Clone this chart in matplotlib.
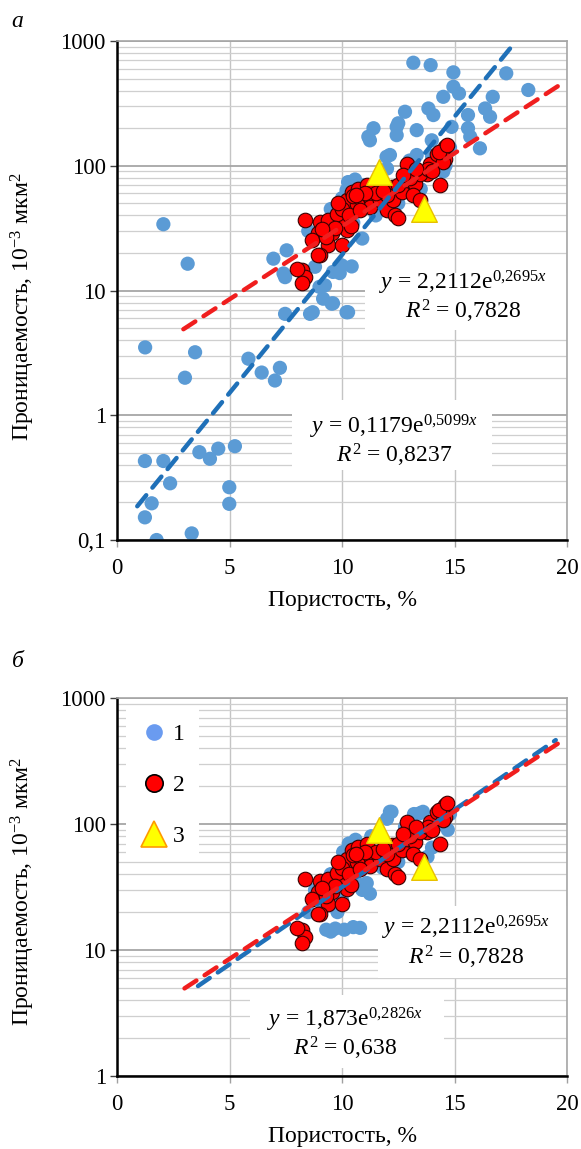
import numpy as np
import matplotlib
matplotlib.use("Agg")
import matplotlib.pyplot as plt
from matplotlib.lines import Line2D
from matplotlib.patches import Rectangle

plt.rcParams['font.family'] = 'serif'
plt.rcParams['font.serif'] = ['Liberation Serif', 'DejaVu Serif']
plt.rcParams['mathtext.fontset'] = 'custom'
plt.rcParams['mathtext.rm'] = 'Liberation Serif'
plt.rcParams['mathtext.it'] = 'Liberation Serif:italic'

# sample 1, panel a (porosity %, permeability 10^-3 um^2)
por1_a = [1.25, 3.47, 3.02, 5.84, 6.43, 7.02, 7.24, 7.47, 1.24, 2.06, 2.36, 1.54,
          1.24, 1.76, 3.32, 3.66, 4.13, 4.50, 5.24, 4.99, 4.99, 2.06, 3.14,
          6.95, 7.54, 7.47, 7.40, 8.80, 9.60, 10.43, 10.20, 10.90, 9.00, 9.54,
          8.58, 10.20, 8.70, 9.60, 10.27, 9.16, 9.99, 9.90, 9.24, 10.27,
          13.17, 13.94, 14.95, 17.30, 18.28, 14.95, 14.50, 15.20, 16.70, 16.36,
          16.58, 15.60, 15.60, 16.13, 13.84, 14.06, 12.80, 12.50, 11.40, 11.17,
          12.43, 13.32, 13.99, 14.87, 15.70, 12.13, 13.32, 10.58, 12.43, 11.98,
          11.24, 8.50, 9.50, 10.50, 11.50, 12.50, 13.50, 14.50, 14.60, 11.00,
          12.00, 13.00, 10.00, 14.00, 14.80]
perm1_a = [3.5, 3.2, 2.0, 2.84, 2.2, 1.9, 2.4, 6.5, 0.43, 0.43, 0.285, 0.197,
           0.152, 0.10, 0.113, 0.506, 0.448, 0.54, 0.565, 0.265, 0.195, 34, 16.4,
           18, 21, 12.8, 13.7, 15.5, 14.1, 15.6, 63.7, 26.1, 10.7, 7.85,
           6.5, 6.7, 6.7, 7.9, 6.7, 8.6, 15.9, 13.8, 11.0, 74,
           670, 641, 561, 551, 405, 430, 357, 380, 357, 288,
           247, 255, 200, 138, 288, 255, 271, 219, 200, 171,
           176, 193, 160, 205, 171, 122, 122, 77.6, 205, 118,
           160, 30, 45, 35, 40, 50, 65, 90, 100, 70,
           95, 110, 55, 120, 140]

# sample 1, panel b (selected part)
por1_b = [9.3, 9.7, 10.1, 10.5, 10.8, 9.5, 8.8, 9.5, 10.3, 10.6, 11.3, 12.0,
          12.2, 13.2, 13.6, 14.3, 14.7, 14.8, 13.0, 11.8, 10.9, 11.24, 11.1,
          9.8, 10.6, 12.5, 13.8, 14.0, 8.5, 10.0, 11.0, 12.13, 13.47, 10.43,
          10.05, 14.5, 12.8, 9.2]
perm1_b = [14.5, 14.8, 14.5, 15.2, 15.0, 14.0, 30, 40, 70, 75, 80, 110,
           125, 120, 125, 100, 90, 120, 60, 45, 30, 28, 34,
           20, 35, 50, 55, 65, 20, 25, 55, 125, 122, 68,
           60, 135, 95, 22]

# sample 2 (both panels)
por2 = [8.36, 9.02, 9.39, 9.99, 9.76, 10.20, 10.43, 10.73, 10.88, 11.24, 11.24,
        11.69, 11.98, 12.36, 12.28, 12.65, 12.87, 13.24, 13.17, 13.47, 13.76,
        13.90, 14.20, 14.58, 14.58, 14.36, 13.47, 12.87, 9.54, 8.95, 9.39, 9.99,
        9.02, 8.65, 8.21, 8.36, 8.21, 10.20, 10.65, 11.10, 12.20, 8.95, 7.98,
        10.5, 11.5, 12.0, 13.0, 13.8, 14.5, 14.0, 10.0, 10.3, 9.7, 11.0, 12.5,
        13.3, 14.3, 9.3, 10.8, 14.65, 12.7, 12.5, 9.8, 10.4, 11.8, 9.1, 10.6]
perm2 = [36.6, 35.5, 36.6, 36.6, 41, 53, 62, 65.7, 53, 56, 46.7,
         53, 44, 40, 53, 62, 76.6, 72, 58, 53, 86.7,
         104, 125, 142, 114, 69.8, 86.7, 104, 28.7, 28.7, 23, 23,
         19.2, 25.3, 14.5, 12.8, 11.4, 30.4, 49.8, 69.8, 67.6, 19.2, 15,
         57, 60, 58, 80, 95, 108, 90, 45, 40, 32, 60, 70,
         95, 130, 27, 44, 146, 84, 38, 50, 33, 63, 31, 58]

# sample 3
por3 = [11.66, 13.64]
perm3 = [89, 45.4]

# exponential trends k = a*exp(b*phi)
fit1_a = (0.1179, 0.5099)
fit2 = (2.2112, 0.2695)
fit1_b = (1.873, 0.2826)

BLUE = '#5B9BD5'
BLUE_LINE = '#1F70B8'
RED = '#FF0000'
RED_LINE = '#F01E1E'

fig = plt.figure(figsize=(5.81, 11.49), dpi=100)
ax_a = fig.add_axes([0.2014, 0.530, 0.7745, 0.4343])
ax_b = fig.add_axes([0.2014, 0.0635, 0.7745, 0.3290])


def style_axes(ax, ymin, ymax, yticks, ylabels):
    ax.set_yscale('log')
    ax.set_xlim(0, 20)
    ax.set_ylim(ymin, ymax)
    ax.set_xticks([0, 5, 10, 15, 20])
    ax.set_yticks(yticks)
    ax.set_yticklabels(ylabels)
    ax.yaxis.set_minor_locator(matplotlib.ticker.LogLocator(base=10, subs=np.arange(2, 10)))
    ax.yaxis.set_minor_formatter(matplotlib.ticker.NullFormatter())
    ax.tick_params(axis='y', which='minor', length=0)
    ax.tick_params(axis='y', which='major', length=5, width=1, color='#404040',
                   labelsize=16.5, pad=3)
    ax.tick_params(axis='x', which='major', length=5, width=1, color='#A0A0A0',
                   labelsize=16.5, pad=8)
    ax.set_axisbelow(True)
    ax.grid(True, which='major', axis='y', color='#A6A6A6', lw=1.3)
    ax.grid(True, which='minor', axis='y', color='#CFCFCF', lw=0.9)
    ax.grid(True, which='major', axis='x', color='#C4C4C4', lw=1.0)
    for side in ('top', 'right'):
        ax.spines[side].set_color('#A6A6A6')
        ax.spines[side].set_linewidth(1.2)
    for side in ('left', 'bottom'):
        ax.spines[side].set_color('black')
        ax.spines[side].set_linewidth(1.8)
    ax.set_xlabel('Пористость, %', fontsize=17, labelpad=8)
    ax.set_ylabel('Проницаемость, 10$^{-3}$ мкм$^{2}$', fontsize=17)


def trend(ax, fit, x0, x1, color, z):
    xs = np.linspace(x0, x1, 200)
    ax.plot(xs, fit[0] * np.exp(fit[1] * xs), color=color, lw=3.2,
            dashes=(3.2, 2.2), dash_capstyle='round', zorder=z)


def eq_box(ax, x0, y0, w, h, xc, y1, y2, a, b, r2):
    ax.add_patch(Rectangle((x0, y0), w, h, transform=ax.transAxes,
                           facecolor='white', edgecolor='none', zorder=1.2))
    ax.text(xc, y1, r'$\mathit{y}$ = ' + a + 'e$^{' + b + r'\mathit{x}}$',
            transform=ax.transAxes, ha='center', va='center', fontsize=17, zorder=10)
    ax.text(xc, y2, r'$\mathit{R}^{2}$ = ' + r2,
            transform=ax.transAxes, ha='center', va='center', fontsize=17, zorder=10)


# ---- panel a ----
style_axes(ax_a, 0.1, 1000, [0.1, 1, 10, 100, 1000], ['0,1', '1', '10', '100', '1000'])
ax_a.yaxis.set_label_coords(-0.178, 0.467)
eq_box(ax_a, 0.551, 0.42, 0.46, 0.115, 0.768, 0.515, 0.458, '2,2112', '0{,}2695', '0,7828')
eq_box(ax_a, 0.389, 0.14, 0.444, 0.14, 0.616, 0.227, 0.170, '0,1179', '0{,}5099', '0,8237')
ax_a.scatter(por1_a, perm1_a, s=105, color=BLUE, edgecolors='none', zorder=2)
ax_a.scatter(por2, perm2, s=110, color=RED, edgecolors='#3A0000', linewidths=0.8, zorder=3)
ax_a.scatter(por3, perm3, s=340, marker='^', color='#FFFF00', edgecolors='#E8C000',
             linewidths=1.0, zorder=4)
trend(ax_a, fit2, 2.95, 19.7, RED_LINE, 5)
trend(ax_a, fit1_a, 0.9, 17.74, BLUE_LINE, 6)
fig.text(0.02, 0.981, 'а', fontsize=17, style='italic', va='center')

# ---- panel b ----
style_axes(ax_b, 1, 1000, [1, 10, 100, 1000], ['1', '10', '100', '1000'])
ax_b.yaxis.set_label_coords(-0.178, 0.487)
eq_box(ax_b, 0.58, 0.26, 0.43, 0.19, 0.776, 0.393, 0.314, '2,2112', '0{,}2695', '0,7828')
eq_box(ax_b, 0.295, 0.02, 0.431, 0.195, 0.507, 0.148, 0.074, '1,873', '0{,}2826', '0,638')
ax_b.scatter(por1_b, perm1_b, s=105, color=BLUE, edgecolors='none', zorder=2)
ax_b.scatter(por2, perm2, s=110, color=RED, edgecolors='#3A0000', linewidths=0.8, zorder=3)
ax_b.scatter(por3, perm3, s=340, marker='^', color='#FFFF00', edgecolors='#E8C000',
             linewidths=1.0, zorder=4)
trend(ax_b, fit1_b, 3.6, 19.5, BLUE_LINE, 5)
trend(ax_b, fit2, 3.0, 19.8, RED_LINE, 6)
fig.text(0.02, 0.424, 'б', fontsize=17, style='italic', va='center')

handles = [
    Line2D([], [], ls='none', marker='o', ms=12, mfc='#6A9BF0', mec='none'),
    Line2D([], [], ls='none', marker='o', ms=12.5, mfc='#FF0000', mec='black', mew=1.2),
    Line2D([], [], ls='none', marker='^', ms=19, mfc='#FFFF00', mec='#FF9A00', mew=1.2),
]
leg = ax_b.legend(handles, ['1', '2', '3'], loc='upper left', bbox_to_anchor=(0.02, 0.97),
                  frameon=True, fancybox=False, framealpha=1, facecolor='white',
                  edgecolor='none', fontsize=17, labelspacing=1.25, handletextpad=0.2,
                  handlelength=1.2, borderpad=0.6, borderaxespad=0)
leg.set_zorder(1.3)

fig.savefig('out.png', dpi=100)
